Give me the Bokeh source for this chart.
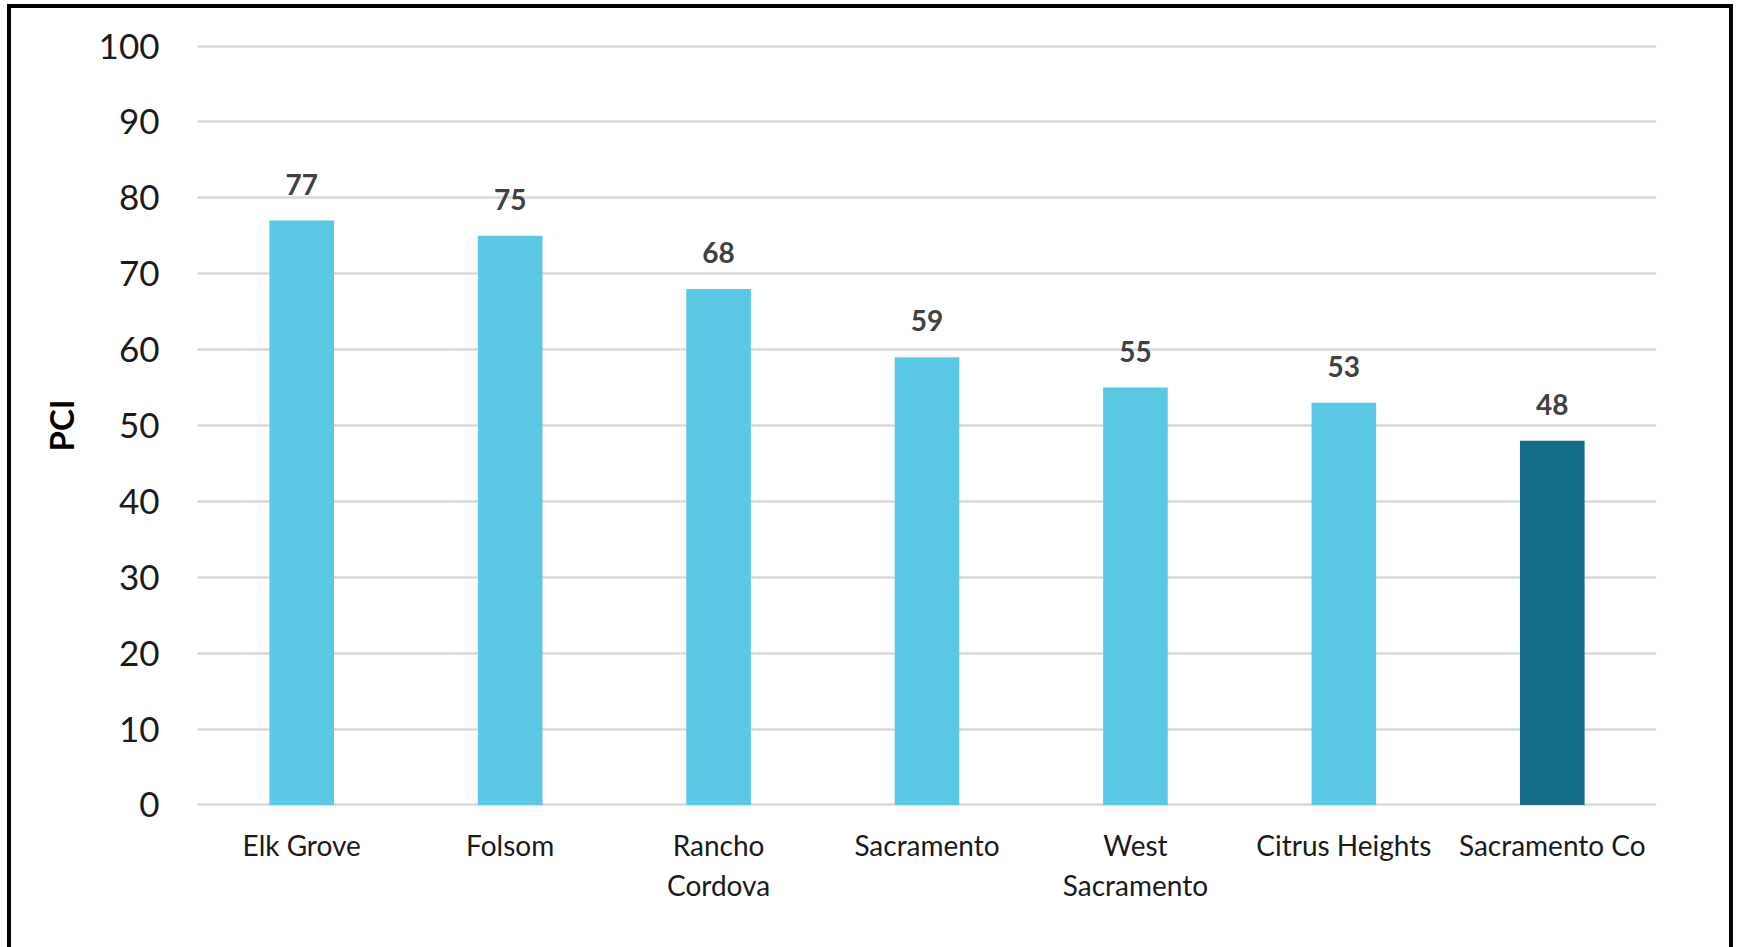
from bokeh.plotting import figure
from bokeh.models import ColumnDataSource, FactorRange, Range1d, SingleIntervalTicker, LabelSet
from bokeh.core.properties import value
from bokeh.embed import file_html
from bokeh.resources import INLINE

cities = ["Elk Grove", "Folsom", "Rancho Cordova", "Sacramento", "West Sacramento", "Citrus Heights", "Sacramento Co"]
tick_labels = ["Elk Grove", "Folsom", "Rancho\nCordova", "Sacramento", "West\nSacramento", "Citrus Heights", "Sacramento Co"]
pci = [77, 75, 68, 59, 55, 53, 48]
colors = ["#5BC8E6", "#5BC8E6", "#5BC8E6", "#5BC8E6", "#5BC8E6", "#5BC8E6", "#156E88"]

src = ColumnDataSource(dict(x=tick_labels, top=pci, color=colors, label=[str(v) for v in pci]))

FONT = "Lato"

p = figure(x_range=FactorRange(*tick_labels), y_range=Range1d(-0.2, 100.2),
           width=1726, height=943, output_backend="svg", toolbar_location=None,
           min_border_left=186, min_border_right=81, min_border_top=36, min_border_bottom=145)
p.styles = {"border-top": "4px solid black", "border-left": "4px solid black",
            "border-right": "4px solid black", "margin-left": "7px", "margin-top": "4px"}
p.outline_line_color = None
p.background_fill_color = "white"
p.border_fill_color = "white"

p.vbar(x="x", top="top", width=0.31, bottom=0, color="color", source=src, line_color=None)

labels = LabelSet(x="x", y="top", text="label", source=src, text_align="center",
                  text_baseline="alphabetic", y_offset=26, text_font=value(FONT),
                  text_font_size=value("28px"), text_font_style="bold", text_color="#404040")
p.add_layout(labels)

p.ygrid.ticker = SingleIntervalTicker(interval=10)
p.ygrid.grid_line_color = "#D9D9D9"
p.ygrid.grid_line_width = 2.5
p.xgrid.grid_line_color = None

p.yaxis.ticker = SingleIntervalTicker(interval=10)
p.yaxis.axis_line_color = None
p.yaxis.major_tick_line_color = None
p.yaxis.minor_tick_line_color = None
p.yaxis.major_tick_out = 0
p.yaxis.major_tick_in = 0
p.yaxis.major_label_standoff = 34
p.yaxis.major_label_text_font = FONT
p.yaxis.major_label_text_font_size = "35px"
p.yaxis.major_label_text_color = "#1a1a1a"
p.yaxis.axis_label = "PCI"
p.yaxis.axis_label_text_font = FONT
p.yaxis.axis_label_text_font_size = "33px"
p.yaxis.axis_label_text_font_style = "bold"
p.yaxis.axis_label_text_color = "#000000"
p.yaxis.axis_label_standoff = 15

p.xaxis.axis_line_color = None
p.xaxis.major_tick_line_color = None
p.xaxis.major_tick_out = 0
p.xaxis.major_tick_in = 0
p.xaxis.major_label_standoff = 21
p.xaxis.major_label_text_font = FONT
p.xaxis.major_label_text_font_size = "28px"
p.xaxis.major_label_text_color = "#1a1a1a"
p.xaxis.major_label_text_line_height = 1.2

open("out.html", "w").write(file_html(p, INLINE))
